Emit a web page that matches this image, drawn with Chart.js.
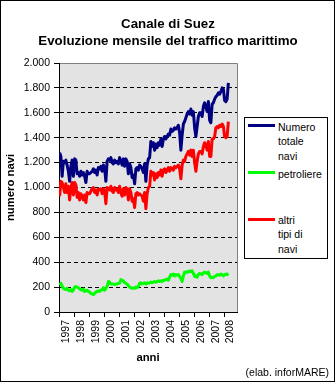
<!DOCTYPE html>
<html><head><meta charset="utf-8">
<script src="https://cdn.jsdelivr.net/npm/chart.js@4.4.1/dist/chart.umd.min.js"></script>
<style>
html,body{margin:0;padding:0;background:#fff;}
#wrap{position:relative;width:336px;height:383px;overflow:hidden;font-family:Arial,"Liberation Sans",sans-serif;color:#000;}
#frame{position:absolute;left:0;top:0;width:335px;height:382px;box-sizing:border-box;border:1px solid #000;pointer-events:none;}
#title{position:absolute;left:0;top:14.5px;width:336px;text-align:center;font-weight:bold;font-size:13.3px;line-height:17px;white-space:nowrap;}
#legend{position:absolute;left:244px;top:117px;width:84px;height:142px;box-sizing:border-box;border:1px solid #000;background:#fff;}
.sw{position:absolute;left:248px;width:27px;height:3px;}
.tx{position:absolute;left:278px;font-size:10.5px;line-height:14.5px;white-space:nowrap;}
#foot{position:absolute;right:7px;top:366px;font-size:10.5px;line-height:12px;white-space:nowrap;}
canvas{position:absolute;left:0;top:0;}
</style></head>
<body>
<div id="wrap">
<canvas id="c" width="336" height="383"></canvas>
<div id="title">Canale di Suez<br>Evoluzione mensile del traffico marittimo</div>
<div id="legend"></div>
<div class="sw" style="top:123.5px;background:#000080"></div>
<div class="tx" style="top:119.5px">Numero<br>totale<br>navi</div>
<div class="sw" style="top:170.8px;background:#00ff00"></div>
<div class="tx" style="top:166.8px">petroliere</div>
<div class="sw" style="top:217.8px;background:#ff0000"></div>
<div class="tx" style="top:212.8px">altri<br>tipi di<br>navi</div>
<div id="foot">(elab. inforMARE)</div>
<div id="frame"></div>
</div>
<script>
const years = ['1997','1998','1999','2000','2001','2002','2003','2004','2005','2006','2007','2008'];

const totale = [
 1280,1250,1090,1210,1200,1220,1180,1130,1050,1170,1220,1090,
 1230,1220,1110,1120,1090,1130,1100,1120,1090,1040,1130,1110,
 1110,1120,1130,1150,1120,1140,1100,1160,1150,1170,1130,1180,
 1150,1050,1210,1230,1220,1240,1200,1190,1220,1200,1210,1190,
 1240,1210,1180,1230,1170,1230,1210,1110,1190,1160,1080,1100,
 1030,1150,1160,1140,1180,1170,1150,1120,1190,1050,1180,1230,
 1240,1370,1330,1360,1300,1350,1320,1360,1340,1390,1330,1390,
 1410,1390,1410,1430,1420,1470,1450,1460,1480,1470,1480,1500,
 1440,1300,1420,1510,1530,1560,1590,1610,1590,1630,1580,1610,
 1480,1410,1490,1570,1600,1600,1570,1650,1680,1650,1610,1690,
 1540,1520,1670,1680,1710,1730,1740,1760,1750,1770,1800,1790,
 1700,1690,1710,1840
];

const petroliere = [
 215,230,210,190,185,180,190,175,170,180,165,175,
 200,205,200,195,185,180,175,185,165,170,175,165,
 160,150,145,140,150,160,165,170,165,175,180,195,
 175,190,205,245,240,225,225,225,220,225,225,230,
 230,260,255,250,235,230,225,210,200,195,190,195,
 190,200,195,205,230,235,225,230,235,225,235,230,
 235,240,235,240,245,240,245,250,245,250,245,255,
 255,260,265,255,280,300,295,305,290,300,295,300,
 285,270,245,290,320,315,325,320,330,325,330,310,
 285,290,280,300,310,305,300,315,320,315,310,320,
 290,275,280,275,285,290,300,300,295,305,300,290,
 300,305,300,310
];

const altri = [
 930,1050,1040,1000,960,1030,960,1010,900,1000,1040,940,
 1040,1020,920,960,900,950,930,900,940,880,960,950,
 950,970,990,1000,960,980,940,990,980,990,950,990,
 970,870,1000,990,980,1010,970,960,1000,980,990,960,
 1010,960,930,990,940,1000,990,900,990,960,890,910,
 840,950,960,940,950,940,930,890,960,830,950,1000,
 1010,1130,1100,1120,1060,1110,1080,1120,1100,1140,1090,1140,
 1150,1120,1140,1160,1130,1160,1150,1140,1170,1160,1170,1180,
 1150,1070,1180,1220,1210,1250,1270,1290,1260,1300,1250,1300,
 1200,1130,1210,1270,1290,1290,1270,1330,1360,1340,1300,1370,
 1250,1250,1390,1390,1410,1480,1490,1480,1500,1490,1510,1490,
 1410,1400,1410,1530
];

const yTicks = [0,200,400,600,800,1000,1200,1400,1600,1800,2000];

const xMin = -0.5, xMax = 141.9;
const boundaries = years.map((y, i) => i * 12 - 0.5);
const labelPos = years.map((y, i) => i < years.length - 1 ? i * 12 + 5.5 : ((years.length - 1) * 12 - 0.5 + xMax) / 2);
const pts = arr => arr.map((v, i) => ({x: i, y: v}));
const fmt = v => String(v).replace(/\B(?=(\d{3})+(?!\d))/g, '.');

Chart.defaults.font.family = 'Arial, "Liberation Sans", sans-serif';
Chart.defaults.color = '#000';

const bgPlugin = {
  id: 'bg',
  beforeDraw(chart) {
    const {ctx, chartArea: a} = chart;
    ctx.save();
    ctx.fillStyle = '#fff';
    ctx.fillRect(0, 0, chart.width, chart.height);
    ctx.fillStyle = '#e3e3e3';
    ctx.fillRect(a.left, a.top, a.right - a.left, a.bottom - a.top);
    ctx.strokeStyle = '#808080';
    ctx.lineWidth = 1;
    ctx.beginPath();
    ctx.moveTo(a.left, a.top + 0.5);
    ctx.lineTo(a.right + 0.5, a.top + 0.5);
    ctx.lineTo(a.right + 0.5, a.bottom);
    ctx.stroke();
    ctx.restore();
  }
};

const ds = (label, data, color) => ({
  label, data: pts(data), borderColor: color, backgroundColor: color,
  borderWidth: 3, pointRadius: 0, tension: 0, fill: false, borderJoinStyle: 'round'
});

new Chart(document.getElementById('c'), {
  type: 'line',
  data: {datasets: [
    ds('Numero totale navi', totale, '#000080'),
    ds('petroliere', petroliere, '#00ff00'),
    ds('altri tipi di navi', altri, '#ff0000')
  ]},
  options: {
    responsive: false, animation: false, devicePixelRatio: 1,
    layout: {padding: {left: 4, right: 99, top: 63, bottom: 18}},
    plugins: {
      legend: {display: false}, tooltip: {enabled: false}, title: {display: false}
    },
    scales: {
      x: {
        type: 'linear', min: xMin, max: xMax,
        afterBuildTicks: s => { s.ticks = boundaries.concat(labelPos).sort((a, b) => a - b).map(v => ({value: v})); },
        afterFit: s => { s.height = 53; },
        ticks: {autoSkip: false, minRotation: 90, maxRotation: 90, padding: 3, font: {size: 10.5},
          callback: v => { const i = labelPos.indexOf(v); return i >= 0 ? years[i] : ''; }},
        grid: {drawOnChartArea: false, drawTicks: true, tickLength: 5,
          color: c => (c.tick && boundaries.includes(c.tick.value)) ? '#000' : 'rgba(0,0,0,0)',
          tickColor: c => (c.tick && boundaries.includes(c.tick.value)) ? '#000' : 'rgba(0,0,0,0)'},
        border: {color: '#000', width: 1},
        title: {display: true, text: 'anni', font: {size: 11.3, weight: 'bold', lineHeight: 1.2}, padding: 0}
      },
      y: {
        min: 0, max: 2000,
        afterBuildTicks: s => { s.ticks = yTicks.map(v => ({value: v})); },
        afterFit: s => { s.width = 55; },
        ticks: {padding: 4, font: {size: 10.5}, callback: v => fmt(v)},
        grid: {color: c => (c.tick && (c.tick.value === 0 || c.tick.value === 2000)) ? 'rgba(0,0,0,0)' : '#000',
          tickColor: '#000', tickLength: 5, tickBorderDash: []},
        border: {color: '#000', width: 1, dash: [4, 3]},
        title: {display: true, text: 'numero navi', font: {size: 11.3, weight: 'bold', lineHeight: 1.2}, padding: 0}
      }
    }
  },
  plugins: [bgPlugin]
});
</script>
</body></html>
